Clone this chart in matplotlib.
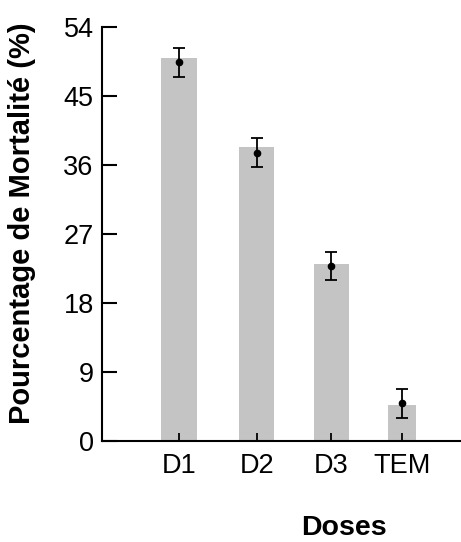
import matplotlib.pyplot as plt

plt.rcParams.update({"font.family": ["Liberation Sans", "DejaVu Sans"]})

# data
doses = ["D1", "D2", "D3", "TEM"]
bar_height = [50.0, 38.4, 23.0, 4.7]
mean_mort = [49.4, 37.6, 22.8, 4.9]
err_mort = [1.9, 1.9, 1.8, 1.9]
yticks = [0, 9, 18, 27, 36, 45, 54]

# layout
xpos = [1.0, 2.04, 3.04, 3.99]
widths = [0.47, 0.47, 0.47, 0.375]

fig = plt.figure(figsize=(4.61, 5.42), dpi=100)
ax = fig.add_axes([102 / 461, 1 - 440.7 / 542, 1 - 102 / 461, (440.7 - 27) / 542])

ax.bar(xpos, bar_height, width=widths, color="#c4c4c4", zorder=1)
ax.errorbar(xpos, mean_mort, yerr=err_mort, fmt="o", color="black",
            markersize=4.5, elinewidth=1.3, capsize=4.5, capthick=1.3, zorder=3)

ax.set_xlim(1 - 77 / 74.7, 1 + 282 / 74.7)
ax.set_ylim(0, 54)
ax.set_yticks(yticks)
ax.set_xticks(xpos)
ax.set_xticklabels(doses)

ax.spines["top"].set_visible(False)
ax.spines["right"].set_visible(False)
ax.spines["left"].set_linewidth(1.5)
ax.spines["bottom"].set_linewidth(1.5)
ax.tick_params(axis="y", direction="in", length=11, width=1.5, pad=6, labelsize=19.5)
ax.tick_params(axis="x", direction="in", length=6, width=1.3, pad=9, labelsize=19.5)
for t in ax.xaxis.get_ticklines():
    t.set_zorder(4)

ax.set_ylabel("Pourcentage de Mortalité (%)", fontsize=21, fontweight="bold", va="center")
ax.yaxis.set_label_coords(-0.223, 0.526)
ax.set_xlabel("Doses", fontsize=20.5, fontweight="bold", va="center")
ax.xaxis.set_label_coords(0.674, -0.211)

plt.savefig("out.png", dpi=100)
